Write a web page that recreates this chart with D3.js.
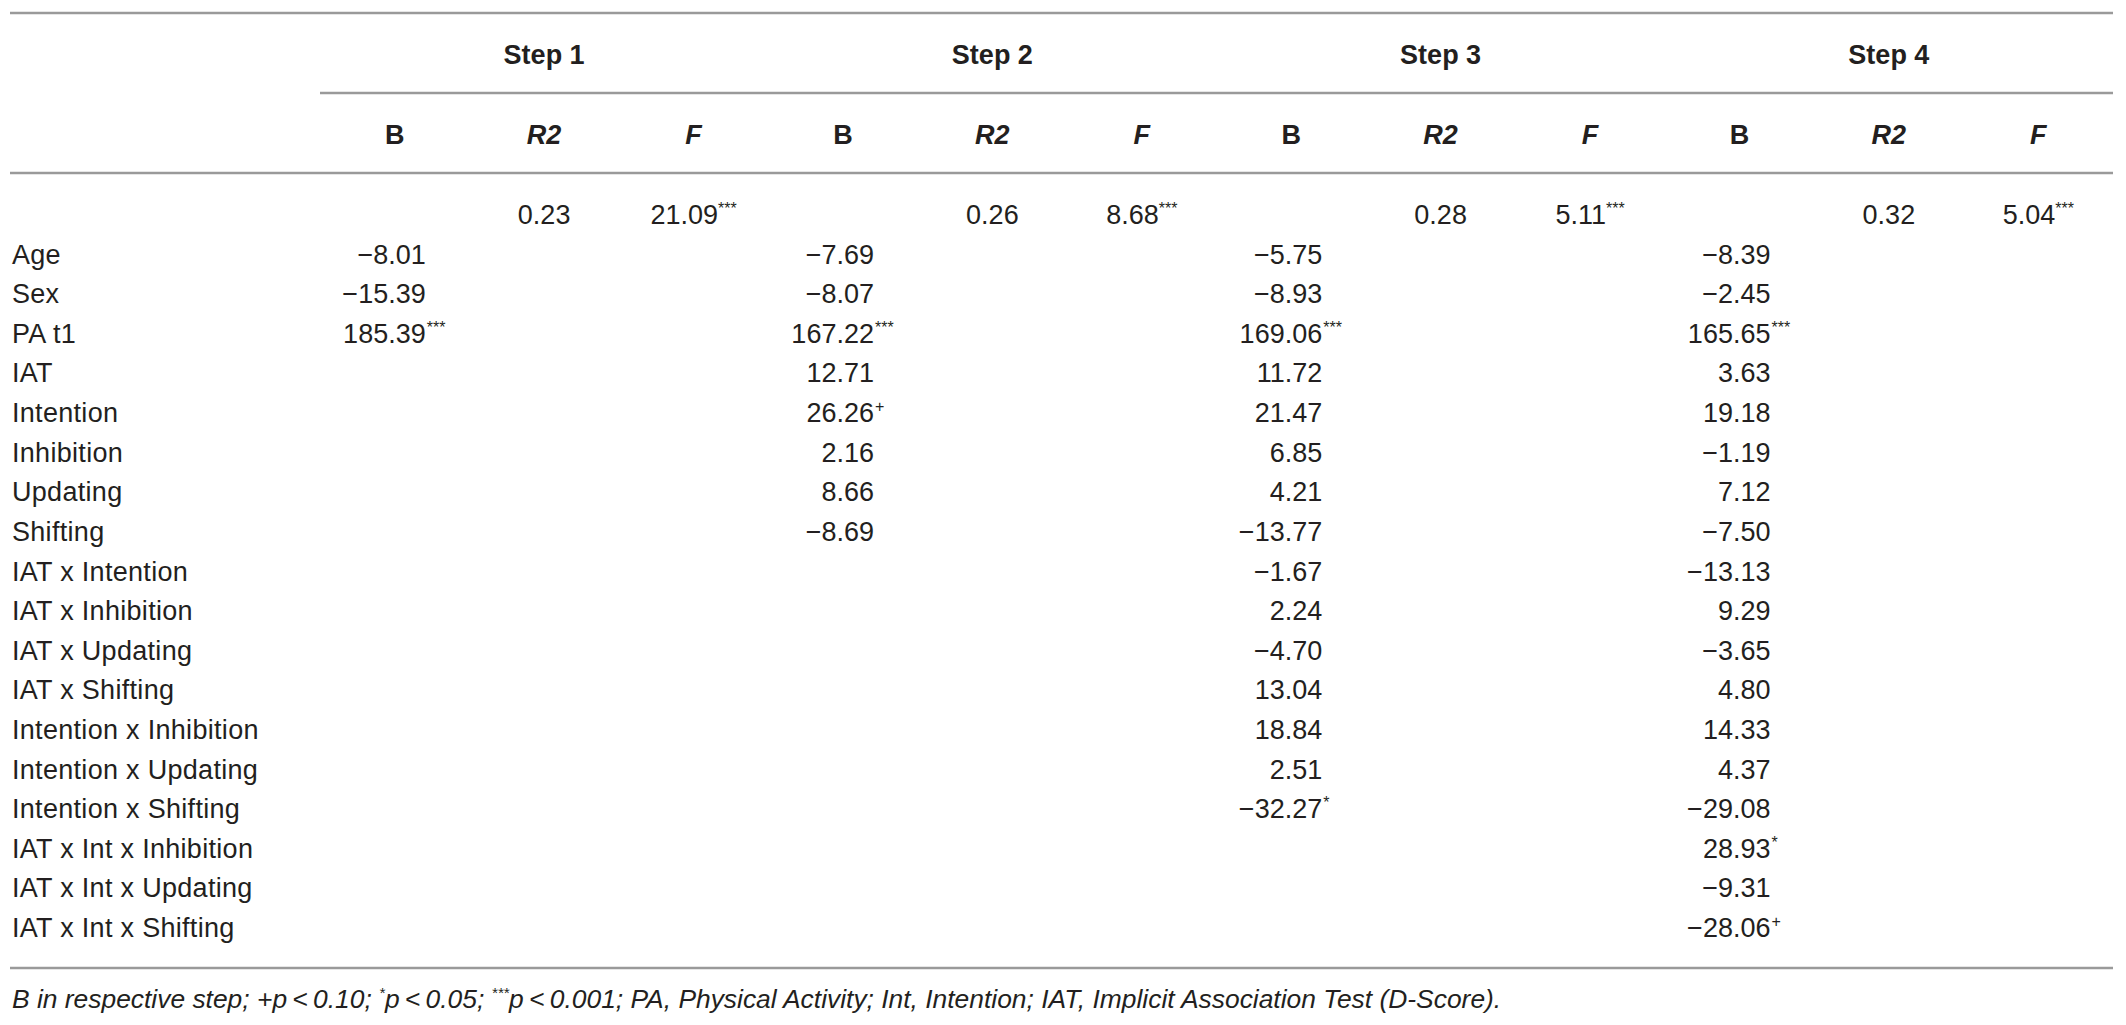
<!DOCTYPE html>
<html>
<head>
<meta charset="utf-8">
<script src="https://cdn.jsdelivr.net/npm/d3@7"></script>
<style>
  html, body { margin: 0; padding: 0; background: #fff; }
  svg { display: block; }
  text { font-family: "Liberation Sans", Arial, Helvetica, sans-serif; fill: #231f20; }
</style>
</head>
<body>
<svg id="chart" width="2126" height="1025"></svg>
<script>
// --- Datos de la tabla ---
const steps = ['Step 1', 'Step 2', 'Step 3', 'Step 4'];
const subHeads = ['B', 'R2', 'F'];
const predictors = [
  'Age', 'Sex', 'PA t1', 'IAT', 'Intention', 'Inhibition', 'Updating', 'Shifting',
  'IAT x Intention', 'IAT x Inhibition', 'IAT x Updating', 'IAT x Shifting',
  'Intention x Inhibition', 'Intention x Updating', 'Intention x Shifting',
  'IAT x Int x Inhibition', 'IAT x Int x Updating', 'IAT x Int x Shifting'
];
// R2 y F por paso
const r2Values = [0.23, 0.26, 0.28, 0.32];
const fValues = [21.09, 8.68, 5.11, 5.04];
const fSig = ['***', '***', '***', '***'];
// Coeficientes B por paso (en el orden de predictors)
const step1B = [-8.01, -15.39, 185.39];
const step1Sig = ['', '', '***'];
const step2B = [-7.69, -8.07, 167.22, 12.71, 26.26, 2.16, 8.66, -8.69];
const step2Sig = ['', '', '***', '', '+', '', '', ''];
const step3B = [-5.75, -8.93, 169.06, 11.72, 21.47, 6.85, 4.21, -13.77, -1.67, 2.24, -4.70, 13.04, 18.84, 2.51, -32.27];
const step3Sig = ['', '', '***', '', '', '', '', '', '', '', '', '', '', '', '*'];
const step4B = [-8.39, -2.45, 165.65, 3.63, 19.18, -1.19, 7.12, -7.50, -13.13, 9.29, -3.65, 4.80, 14.33, 4.37, -29.08, 28.93, -9.31, -28.06];
const step4Sig = ['', '', '***', '', '', '', '', '', '', '', '', '', '', '', '', '*', '', '+'];

const bSteps = [step1B, step2B, step3B, step4B];
const bSigs = [step1Sig, step2Sig, step3Sig, step4Sig];

const svg = d3.select('#chart');
const fmt = d3.format('.2f');
const FS = 27;          // tamaño de fuente del cuerpo
const SUP = 16;         // tamaño de los superíndices
const lineColor = '#9a9a9a';

// --- Escalas ---
const x = d3.scaleLinear().domain([0, 12]).range([320, 2113]);   // bordes de columnas
const colCenter = i => x(i + 0.5);
const y = d3.scaleLinear().domain([0, predictors.length]).range([215, 928]); // centro de filas
const base = c => c + 9; // línea base a partir del centro

// --- Líneas horizontales ---
const rules = [
  { y: 13, x1: 10, x2: 2113 },
  { y: 93, x1: 320, x2: 2113 },
  { y: 173, x1: 10, x2: 2113 },
  { y: 968, x1: 10, x2: 2113 }
];
svg.selectAll('.rule')
  .data(rules)
  .enter().append('line')
  .attr('class', 'rule')
  .attr('x1', d => d.x1).attr('x2', d => d.x2)
  .attr('y1', d => d.y).attr('y2', d => d.y)
  .attr('stroke', lineColor)
  .attr('stroke-width', 2.5);

// --- Encabezados de paso ---
svg.selectAll('.step')
  .data(steps)
  .enter().append('text')
  .attr('class', 'step')
  .attr('x', (d, i) => colCenter(i * 3 + 1))
  .attr('y', base(55))
  .attr('text-anchor', 'middle')
  .attr('font-size', FS)
  .attr('font-weight', 'bold')
  .text(d => d);

// --- Subencabezados B / R2 / F ---
const subCells = d3.range(12).map(i => ({ i, label: subHeads[i % 3] }));
svg.selectAll('.sub')
  .data(subCells)
  .enter().append('text')
  .attr('class', 'sub')
  .attr('x', d => colCenter(d.i))
  .attr('y', base(135))
  .attr('text-anchor', 'middle')
  .attr('font-size', FS)
  .attr('font-weight', 'bold')
  .attr('font-style', d => d.label === 'B' ? 'normal' : 'italic')
  .text(d => d.label);

// --- Etiquetas de predictores ---
svg.selectAll('.label')
  .data(predictors)
  .enter().append('text')
  .attr('class', 'label')
  .attr('x', 12)
  .attr('y', (d, i) => base(y(i + 1)))
  .attr('font-size', FS)
  .attr('letter-spacing', 0.3)
  .text(d => d);

// --- Fila de R2 y F (centradas) ---
const statCells = [];
steps.forEach((s, k) => {
  statCells.push({ col: k * 3 + 1, val: fmt(r2Values[k]), sig: '' });
  statCells.push({ col: k * 3 + 2, val: fmt(fValues[k]), sig: fSig[k] });
});
const stat = svg.selectAll('.stat')
  .data(statCells)
  .enter().append('text')
  .attr('class', 'stat')
  .attr('x', d => colCenter(d.col))
  .attr('y', base(y(0)))
  .attr('text-anchor', 'middle')
  .attr('font-size', FS);
stat.append('tspan').text(d => d.val);
stat.filter(d => d.sig).append('tspan')
  .attr('font-size', SUP)
  .attr('dy', -10)
  .text(d => d.sig);

// --- Coeficientes B (alineados por la derecha, superíndice colgante) ---
const bCells = [];
bSteps.forEach((vals, k) => {
  vals.forEach((v, r) => bCells.push({ col: k * 3, row: r + 1, val: fmt(v), sig: bSigs[k][r] }));
});
const bx = d => colCenter(d.col) + 31;
svg.selectAll('.bval')
  .data(bCells)
  .enter().append('text')
  .attr('class', 'bval')
  .attr('x', bx)
  .attr('y', d => base(y(d.row)))
  .attr('text-anchor', 'end')
  .attr('font-size', FS)
  .text(d => d.val);
svg.selectAll('.bsig')
  .data(bCells.filter(d => d.sig))
  .enter().append('text')
  .attr('class', 'bsig')
  .attr('x', d => bx(d) + 1)
  .attr('y', d => base(y(d.row)) - 10)
  .attr('font-size', SUP)
  .text(d => d.sig);

// --- Nota al pie ---
const note = svg.append('text')
  .attr('x', 12)
  .attr('y', 1008)
  .attr('font-size', 26.4)
  .attr('font-style', 'italic');
const noteParts = [
  { t: 'B in respective step; +p\u2009<\u20090.10; ' },
  { t: '*', sup: true },
  { t: 'p\u2009<\u20090.05; ' },
  { t: '***', sup: true },
  { t: 'p\u2009<\u20090.001; PA, Physical Activity; Int, Intention; IAT, Implicit Association Test (D-Score).' }
];
let raised = false;
noteParts.forEach(p => {
  const ts = note.append('tspan').text(p.t);
  if (p.sup && !raised) { ts.attr('font-size', 15).attr('dy', -10); raised = true; }
  else if (!p.sup && raised) { ts.attr('dy', 10); raised = false; }
  else if (p.sup) ts.attr('font-size', 15);
});
</script>
</body>
</html>
